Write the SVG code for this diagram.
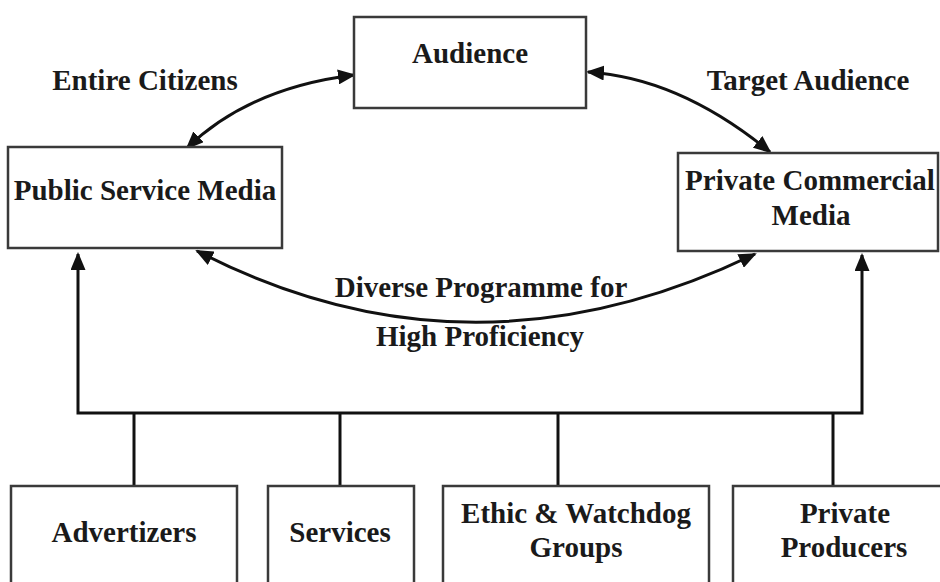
<svg xmlns="http://www.w3.org/2000/svg" width="940" height="582" viewBox="0 0 940 582">
<defs>
<style>
.box{fill:#ffffff;stroke:#3a3a3a;stroke-width:2.5}
.t{font-family:"Liberation Serif","Times New Roman",serif;font-weight:bold;font-size:29px;fill:#1a1a1a;text-anchor:middle}
.c{fill:none;stroke:#111;stroke-width:3}
</style>
<marker id="ah" markerUnits="userSpaceOnUse" markerWidth="18" markerHeight="15" refX="16" refY="7.5" orient="auto-start-reverse">
<path d="M0,0 L18,7.5 L0,15 Z" fill="#111"/>
</marker>
</defs>
<rect width="940" height="582" fill="#ffffff"/>
<g id="connectors">
<path class="c" d="M187,148 Q249,88 354,75" marker-start="url(#ah)" marker-end="url(#ah)"/>
<path class="c" d="M588,72 Q680,78 770,152" marker-start="url(#ah)" marker-end="url(#ah)"/>
<path class="c" d="M197,251 Q470,392 755,254" marker-start="url(#ah)" marker-end="url(#ah)"/>
<path class="c" d="M78,254 L78,413 L862,413 L862,255" marker-start="url(#ah)" marker-end="url(#ah)"/>
<line class="c" x1="134" y1="413" x2="134" y2="486"/>
<line class="c" x1="340" y1="413" x2="340" y2="486"/>
<line class="c" x1="558" y1="413" x2="558" y2="486"/>
<line class="c" x1="833" y1="413" x2="833" y2="486"/>
</g>
<g id="label-entire"><text class="t" x="145" y="90">Entire Citizens</text></g>
<g id="label-target"><text class="t" x="808" y="90">Target Audience</text></g>
<g id="label-diverse"><text class="t" x="481" y="297">Diverse Programme for</text><text class="t" x="480" y="346">High Proficiency</text></g>
<g id="audience"><rect class="box" x="354" y="17" width="232" height="91"/><text class="t" x="470" y="63">Audience</text></g>
<g id="psm"><rect class="box" x="8" y="147" width="274" height="101"/><text class="t" x="145" y="200">Public Service Media</text></g>
<g id="pcm"><rect class="box" x="678" y="153" width="260" height="98"/><text class="t" x="810" y="190">Private Commercial</text><text class="t" x="811" y="225">Media</text></g>
<g id="advertizers"><rect class="box" x="11" y="486" width="226" height="110"/><text class="t" x="124" y="542">Advertizers</text></g>
<g id="services"><rect class="box" x="268" y="486" width="146" height="110"/><text class="t" x="340" y="542">Services</text></g>
<g id="ethic"><rect class="box" x="443" y="486" width="266" height="110"/><text class="t" x="576" y="523">Ethic &amp; Watchdog</text><text class="t" x="576" y="557">Groups</text></g>
<g id="producers"><rect class="box" x="733" y="486" width="220" height="110"/><text class="t" x="845" y="523">Private</text><text class="t" x="844" y="557">Producers</text></g>
</svg>
